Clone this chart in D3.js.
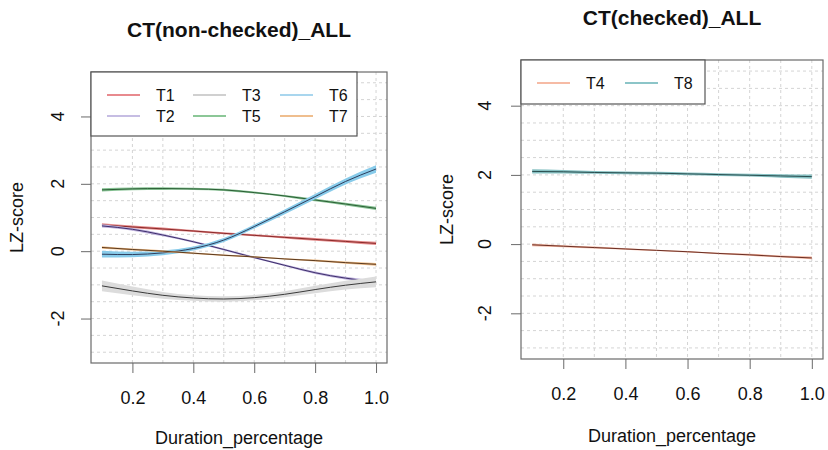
<!DOCTYPE html>
<html>
<head>
<meta charset="utf-8">
<script src="https://cdn.jsdelivr.net/npm/d3@7"></script>
<style>
  body { margin: 0; background: #fff; }
  svg { display: block; font-family: "Liberation Sans", Arial, sans-serif; }
</style>
</head>
<body>
<svg id="chart" width="828" height="450"></svg>
<script>
// x positions shared by every series
const xs = [0.1, 0.2, 0.3, 0.4, 0.5, 0.6, 0.7, 0.8, 0.9, 1.0];

// left panel: non-checked
const t1 = [0.78, 0.72, 0.66, 0.60, 0.53, 0.47, 0.41, 0.35, 0.29, 0.23];
const t2 = [0.75, 0.65, 0.48, 0.28, 0.05, -0.19, -0.42, -0.64, -0.80, -0.92];
const t3 = [-1.03, -1.18, -1.31, -1.39, -1.42, -1.38, -1.28, -1.14, -1.01, -0.91];
const t5 = [1.82, 1.85, 1.86, 1.85, 1.82, 1.74, 1.64, 1.52, 1.40, 1.27];
const t6 = [-0.09, -0.10, -0.05, 0.08, 0.33, 0.73, 1.17, 1.62, 2.07, 2.44];
const t7 = [0.11, 0.05, 0.0, -0.06, -0.12, -0.17, -0.23, -0.28, -0.34, -0.39];

// confidence half-widths
const t1se = [0.05, 0.04, 0.04, 0.03, 0.03, 0.03, 0.03, 0.04, 0.04, 0.05];
const t2se = [0.05, 0.04, 0.04, 0.03, 0.03, 0.03, 0.03, 0.04, 0.04, 0.05];
const t3se = [0.16, 0.13, 0.10, 0.08, 0.08, 0.08, 0.09, 0.11, 0.13, 0.16];
const t5se = [0.05, 0.04, 0.04, 0.03, 0.03, 0.03, 0.03, 0.04, 0.04, 0.05];
const t6se = [0.10, 0.08, 0.07, 0.06, 0.06, 0.06, 0.07, 0.08, 0.09, 0.11];
const t7se = [0.04, 0.03, 0.03, 0.02, 0.02, 0.02, 0.02, 0.03, 0.03, 0.04];

// right panel: checked
const t4 = [-0.02, -0.06, -0.10, -0.14, -0.18, -0.22, -0.27, -0.31, -0.36, -0.40];
const t8 = [2.10, 2.09, 2.07, 2.06, 2.05, 2.03, 2.01, 1.99, 1.97, 1.95];
const t4se = [0.04, 0.03, 0.03, 0.02, 0.02, 0.02, 0.02, 0.03, 0.03, 0.04];
const t8se = [0.06, 0.05, 0.04, 0.04, 0.04, 0.04, 0.04, 0.04, 0.05, 0.06];

const xTicks = [0.2, 0.4, 0.6, 0.8, 1.0];
const yTicks = [-2, 0, 2, 4];
const xGrid = d3.range(0.2, 1.05, 0.1);
const yGrid = d3.range(-3, 5.25, 0.5);

const leftSeries = [
  { name: "T1", vals: t1, se: t1se, legend: "#e88a8e", band: "#e48a8a", line: "#8b2a2a" },
  { name: "T2", vals: t2, se: t2se, legend: "#c6bde3", band: "#bdb0dc", line: "#3d2f6b" },
  { name: "T3", vals: t3, se: t3se, legend: "#d0d0d0", band: "#dcdcdc", line: "#3a3a3a" },
  { name: "T5", vals: t5, se: t5se, legend: "#8cc797", band: "#86c293", line: "#2c5e35" },
  { name: "T6", vals: t6, se: t6se, legend: "#a9d6ee", band: "#88cbea", line: "#2f3e5c" },
  { name: "T7", vals: t7, se: t7se, legend: "#efbe8e", band: "#edbb86", line: "#5c3a1e" }
];
const rightSeries = [
  { name: "T4", vals: t4, se: t4se, legend: "#f6bba5", band: "#f3b5a0", line: "#6b2f24" },
  { name: "T8", vals: t8, se: t8se, legend: "#8cc5c8", band: "#86c0c2", line: "#2a4f50" }
];

const svg = d3.select("#chart");
svg.append("rect").attr("width", 828).attr("height", 450).attr("fill", "#fff");

function drawPanel(p) {
  const x = d3.scaleLinear().domain([0.064, 1.036]).range([p.left, p.right]);
  const y = d3.scaleLinear().domain([-3.32, 5.32]).range([p.bottom, p.top]);
  const g = svg.append("g");

  // grid
  g.selectAll(".gx").data(xGrid).enter().append("line")
    .attr("x1", d => x(d)).attr("x2", d => x(d))
    .attr("y1", p.top).attr("y2", p.bottom)
    .attr("stroke", "#d4d4d4").attr("stroke-dasharray", "3,3");
  g.selectAll(".gy").data(yGrid).enter().append("line")
    .attr("x1", p.left).attr("x2", p.right)
    .attr("y1", d => y(d)).attr("y2", d => y(d))
    .attr("stroke", "#d4d4d4").attr("stroke-dasharray", "3,3");

  const area = d3.area()
    .x((d, i) => x(xs[i]))
    .y0(d => y(d[0] - d[1]))
    .y1(d => y(d[0] + d[1]))
    .curve(d3.curveNatural);
  const line = d3.line()
    .x((d, i) => x(xs[i]))
    .y(d => y(d))
    .curve(d3.curveNatural);

  p.series.forEach(s => {
    g.append("path")
      .datum(s.vals.map((v, i) => [v, s.se[i]]))
      .attr("d", area).attr("fill", s.band);
    g.append("path")
      .datum(s.vals)
      .attr("d", line).attr("fill", "none")
      .attr("stroke", s.line).attr("stroke-width", 1);
  });

  // box
  g.append("rect")
    .attr("x", p.left).attr("y", p.top)
    .attr("width", p.right - p.left).attr("height", p.bottom - p.top)
    .attr("fill", "none").attr("stroke", "#6a6a6a").attr("stroke-width", 1.2);

  // axes
  const xa = g.append("g").attr("transform", `translate(0,${p.bottom})`)
    .call(d3.axisBottom(x).tickValues(xTicks).tickSize(10).tickPadding(18)
      .tickFormat(d3.format(".1f")));
  xa.select(".domain").remove();
  xa.selectAll("line").attr("stroke", "#6a6a6a");
  xa.selectAll("text").attr("font-size", 18).attr("fill", "#111")
    .attr("font-family", "Liberation Sans, Arial, sans-serif");

  const ya = g.append("g").attr("transform", `translate(${p.left},0)`)
    .call(d3.axisLeft(y).tickValues(yTicks).tickSize(10).tickFormat(d3.format("d")));
  ya.select(".domain").remove();
  ya.selectAll("line").attr("stroke", "#6a6a6a");
  ya.selectAll("text").remove();
  g.selectAll(".ytl").data(yTicks).enter().append("text")
    .attr("transform", d => `translate(${p.yTickX},${y(d)}) rotate(-90)`)
    .attr("text-anchor", "middle").attr("dy", "0.35em")
    .attr("font-size", 18).attr("fill", "#111")
    .text(d => d);

  // titles
  const cx = (p.left + p.right) / 2;
  g.append("text").attr("x", cx).attr("y", p.titleY)
    .attr("text-anchor", "middle").attr("font-size", 21).attr("font-weight", "bold")
    .attr("fill", "#111").text(p.title);
  g.append("text").attr("x", cx).attr("y", p.xLabY)
    .attr("text-anchor", "middle").attr("font-size", 18).attr("fill", "#111")
    .text("Duration_percentage");
  g.append("text")
    .attr("transform", `translate(${p.yLabX},${(p.top + p.bottom) / 2}) rotate(-90)`)
    .attr("text-anchor", "middle").attr("dy", "0.35em")
    .attr("font-size", 18).attr("fill", "#111").text("LZ-score");

  // legend
  const lg = g.append("g");
  lg.append("rect")
    .attr("x", p.left).attr("y", p.top)
    .attr("width", p.legW).attr("height", p.legH)
    .attr("fill", "#fff").attr("stroke", "#555").attr("stroke-width", 1.2);
  p.legItems.forEach(it => {
    const s = p.series.find(d => d.name === it.name);
    lg.append("line")
      .attr("x1", it.x).attr("x2", it.x + 33)
      .attr("y1", it.y).attr("y2", it.y)
      .attr("stroke", s.legend).attr("stroke-width", 2);
    lg.append("text").attr("x", it.x + 49).attr("y", it.y).attr("dy", "0.35em")
      .attr("font-size", 16).attr("fill", "#111").text(s.name);
  });
}

drawPanel({
  left: 91, right: 387, top: 72, bottom: 363,
  series: leftSeries, title: "CT(non-checked)_ALL",
  titleY: 37, xLabY: 444, yLabX: 17, yTickX: 58,
  legW: 266, legH: 64,
  legItems: [
    { name: "T1", x: 107, y: 95 }, { name: "T3", x: 193, y: 95 }, { name: "T6", x: 280, y: 95 },
    { name: "T2", x: 107, y: 116 }, { name: "T5", x: 193, y: 116 }, { name: "T7", x: 280, y: 116 }
  ]
});

drawPanel({
  left: 521, right: 823, top: 60, bottom: 359,
  series: rightSeries, title: "CT(checked)_ALL",
  titleY: 25, xLabY: 442, yLabX: 447, yTickX: 485,
  legW: 184, legH: 44,
  legItems: [
    { name: "T4", x: 537, y: 83 }, { name: "T8", x: 625, y: 83 }
  ]
});
</script>
</body>
</html>
